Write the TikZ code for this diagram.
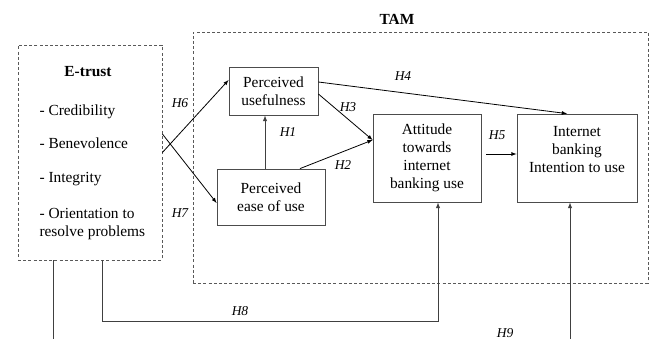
\documentclass[tikz,border=0pt]{standalone}
\usepackage{fontspec}
\setmainfont{Liberation Serif}
\usepackage{tikz}
\usetikzlibrary{arrows}

\begin{document}
\begin{tikzpicture}[x=1pt, y=-1pt,
  txt/.style={font=\fontsize{15.4}{18}\selectfont},
  box/.style={draw=black!70, line width=.8pt, txt, align=center, inner sep=0pt},
  dbox/.style={draw=black!65, line width=.8pt, dash pattern=on 3pt off 2.2pt},
  hyp/.style={font=\fontsize{13.5}{16}\selectfont\itshape},
  arr/.style={arrows={-latex}, line width=.8pt},
  link/.style={arrows={-latex}, line width=1pt, draw=black!75}]
\clip (0,0) rectangle (649,339);

% outer groups
\node[dbox, minimum width=144pt, minimum height=215pt] at (90,152.5) (etrust) {};
\node[dbox, minimum width=455pt, minimum height=251pt] at (420.5,157.5) (tam) {};
\node[txt, font=\fontsize{15.4}{18}\selectfont\bfseries] at (397,19) (tamlabel) {TAM};

% e-trust items
\node[txt, font=\fontsize{15.4}{18}\selectfont\bfseries] at (88,72) (etitle) {E-trust};
\node[txt, anchor=west] at (36,112) (cred) {- Credibility};
\node[txt, anchor=west] at (36,143) (bene) {- Benevolence};
\node[txt, anchor=west] at (36,179) (integ) {- Integrity};
\node[txt, anchor=west, align=left] at (36,224) (orient) {- Orientation to\\resolve problems};

% TAM constructs
\node[box, minimum width=89pt, minimum height=48pt] at (273.5,91) (pu) {Perceived\\usefulness};
\node[box, minimum width=108pt, minimum height=56pt] at (271,197) (peou) {Perceived\\ease of use};
\node[box, minimum width=108pt, minimum height=88pt] at (427,158) (att) {Attitude\\towards\\internet\\banking use};
\node[box, minimum width=120pt, minimum height=88pt] at (577,158) (intent) {Internet\\banking\\Intention to use\\\mbox{}};

% hypotheses
\draw[arr] ([yshift=18.5pt]etrust.east) -- ([yshift=-6pt]peou.west);
\draw[arr] (etrust.east) -- ([yshift=11pt]pu.west);
\draw[link] ([xshift=-6pt]peou.north) -- ([xshift=-8.5pt]pu.south);
\draw[arr] ([xshift=29pt]peou.north) -- ([yshift=18pt]att.west);
\draw[arr] ([yshift=-3pt]pu.east) -- ([yshift=18pt]att.west);
\draw[arr] ([yshift=9pt]pu.east) -- ([xshift=-10pt]intent.north);
\draw[arr] ([xshift=5pt, yshift=4pt]att.east) -- ([yshift=4pt]intent.west);

\coordinate (attin) at ([xshift=11pt]att.south);
\coordinate (intin) at ([xshift=-7pt]intent.south);
\coordinate (h8low) at (0,322);
\coordinate (h9low) at (0,360);
\draw[link] ([xshift=12pt]etrust.south) |- (attin |- h8low) -- (attin);
\draw[link] ([xshift=-37pt]etrust.south) |- (intin |- h9low) -- (intin);

\node[hyp] at (180,103) (h6) {H6};
\node[hyp] at (180,213) (h7) {H7};
\node[hyp] at (288,132) (h1) {H1};
\node[hyp] at (348,107) (h3) {H3};
\node[hyp] at (343,165) (h2) {H2};
\node[hyp] at (403,76) (h4) {H4};
\node[hyp] at (497,135) (h5) {H5};
\node[hyp] at (240,311) (h8) {H8};
\node[hyp] at (505,333) (h9) {H9};
\end{tikzpicture}
\end{document}
